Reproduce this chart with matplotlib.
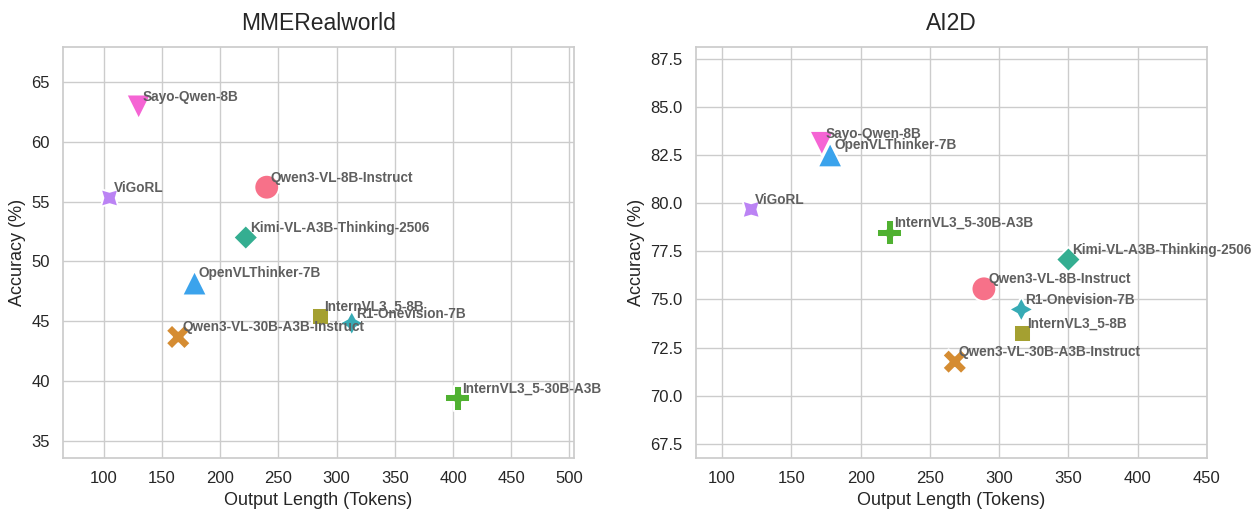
import matplotlib
matplotlib.use("Agg")
import matplotlib.pyplot as plt
import seaborn as sns
import pandas as pd

models = ["Qwen3-VL-8B-Instruct", "Qwen3-VL-30B-A3B-Instruct", "InternVL3_5-8B",
          "InternVL3_5-30B-A3B", "Kimi-VL-A3B-Thinking-2506", "R1-Onevision-7B",
          "OpenVLThinker-7B", "ViGoRL", "Sayo-Qwen-8B"]

# MMERealworld
mme_len = [240, 164, 286, 404, 222, 313, 178, 105, 130]
mme_acc = [56.2, 43.7, 45.4, 38.6, 52.0, 44.85, 48.2, 55.3, 62.9]

# AI2D
ai2d_len = [289, 268, 317, 221, 350, 316, 178, 121, 172]
ai2d_acc = [75.55, 71.77, 73.23, 78.46, 77.07, 74.48, 82.5, 79.67, 83.1]

sns.set_theme(style="whitegrid")
plt.rcParams['font.family'] = ['Liberation Sans', 'DejaVu Sans']
palette = sns.color_palette("husl", len(models))

fig, axes = plt.subplots(1, 2, figsize=(12.52, 5.13), dpi=100)
fig.subplots_adjust(left=0.0503, right=0.964, top=0.9084, bottom=0.1072, wspace=0.238)

panels = [("MMERealworld", mme_len, mme_acc), ("AI2D", ai2d_len, ai2d_acc)]

for ax, (title, xs, ys) in zip(axes, panels):
    df = pd.DataFrame({'Model': models, 'len': xs, 'acc': ys})
    sns.scatterplot(data=df, x='len', y='acc', hue='Model', style='Model',
                    palette=palette, s=320, legend=False, ax=ax)
    for m, x, y in zip(models, xs, ys):
        ax.annotate(m, (x, y), xytext=(3, 4), textcoords='offset points',
                    fontsize=9.8, fontweight='bold', color='#5f5f5f')
    ax.set_xlim(min(xs) - 40, max(xs) + 100)
    ax.set_ylim(min(ys) - 5, max(ys) + 5)
    ax.set_title(title, fontsize=16.5, pad=12)
    ax.set_xlabel("Output Length (Tokens)", fontsize=13)
    ax.set_ylabel("Accuracy (%)", fontsize=13)
    ax.tick_params(labelsize=12)

fig.savefig("out.png", dpi=100)
